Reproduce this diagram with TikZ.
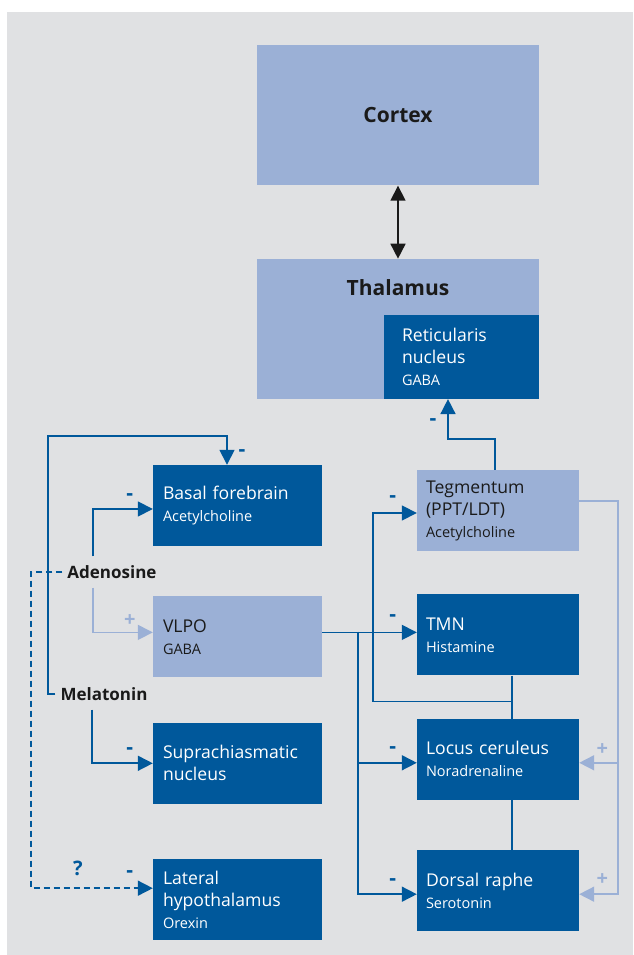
\documentclass[tikz,border=0pt]{standalone}
\usepackage{fontspec}
\setmainfont{Open Sans}
\usetikzlibrary{positioning,arrows.meta,calc}

\definecolor{bgray}{HTML}{E0E1E3}
\definecolor{dblue}{HTML}{00589B}
\definecolor{lblue}{HTML}{9BB0D6}
\definecolor{ink}{HTML}{1A1A1A}

% smaller second line (transmitter) inside a box
\newcommand{\subtxt}[1]{{\fontsize{14.5}{17}\selectfont #1}}

\begin{document}
\begin{tikzpicture}[%
    x=1pt, y=1pt,
    >={Triangle[length=15pt,width=15pt]}, % filled tips everywhere
    node distance=45pt,
    ]
% -------------------------------------------------
% Box, label and connector styles
\tikzset{
  base/.style={rectangle, minimum height=81pt, align=left, inner ysep=0pt,
    font=\fontsize{17.6}{22}\selectfont},
  dk/.style={base, fill=dblue, text=white},
  lt/.style={base, fill=lblue, text=ink},
  lcol/.style={text width=149pt, inner xsep=10pt},
  rcol/.style={text width=144pt, inner xsep=9pt},
  hd/.style={font=\bfseries\fontsize{21}{26}\selectfont, text=ink},
  lab/.style={font=\bfseries\fontsize{17}{20}\selectfont, text=ink,
    inner xsep=5pt, inner ysep=9pt},
  sg/.style={font=\bfseries\fontsize{21}{24}\selectfont, text=dblue, inner sep=0pt},
  sgp/.style={font=\bfseries\fontsize{20}{24}\selectfont, text=lblue, inner sep=0pt},
  % connector line styles
  inh/.style={->, draw=dblue, line width=1.6pt},
  lnk/.style={draw=dblue, line width=1.6pt},
  exc/.style={->, draw=lblue, line width=1.6pt},
  dsh/.style={->, draw=dblue, line width=1.6pt, dash pattern=on 6pt off 4pt},
  both/.style={<->, draw=ink, line width=1.6pt},
}
\useasboundingbox (0,0) rectangle (633,955);
\fill[bgray] (7,0) rectangle (633,943);
% -------------------------------------------------
% Top: cortex and thalamus
\node [lt, hd, minimum width=282pt, minimum height=140pt] (cortex) at (398,839.5) {Cortex};
\node [lt, minimum width=282pt, minimum height=140pt, below=73pt of cortex] (thal) {};
\node [hd] (thaltxt) at ([yshift=-29pt]thal.north) {Thalamus};
\node [dk, text width=119pt, inner xsep=18pt, minimum height=84pt, anchor=south east]
  (retic) at (thal.south east) {Reticularis\\nucleus\\\subtxt{GABA}};

% Left column
\node [dk, lcol] (basal) at (237.5,449.5) {Basal forebrain\\\subtxt{Acetylcholine}};
\node [lt, lcol, below=50pt of basal] (vlpo) {VLPO\\\subtxt{GABA}};
\node [dk, lcol, below=45pt of vlpo] (scn) {Suprachiasmatic\\nucleus};
\node [dk, lcol, below=55pt of scn] (lh) {Lateral\\hypothalamus\\\subtxt{Orexin}};

% Right column
\node [lt, rcol] (teg) at (498,444.5) {Tegmentum\\(PPT/LDT)\\\subtxt{Acetylcholine}};
\node [dk, rcol, below=43pt of teg] (tmn) {TMN\\\subtxt{Histamine}};
\node [dk, rcol, below=43pt of tmn] (lc) {Locus ceruleus\\\subtxt{Noradrenaline}};
\node [dk, rcol, below=50pt of lc] (dr) {Dorsal raphe\\\subtxt{Serotonin}};

% Free labels
\node [lab] (aden) at (112,383) {Adenosine};
\node [lab] (melat) at (104,261) {Melatonin};

% Corners of the long connectors
\coordinate (dashcorner) at (31,383);
\coordinate (loopcorner) at (48,519);
\coordinate (split) at (358,323);
\coordinate (loopin) at ($(teg.west)+(-44,-2.5)$);
\coordinate (excite) at ($(teg.east)+(39,9.5)$);

% -------------------------------------------------
\draw[both] (cortex) -- (thal);
\draw[inh] ([xshift=-3pt]teg.north) -- ++(0,31) -| ([xshift=-13.5pt]retic.south)
  node[sg, at end, xshift=-15pt, yshift=-23pt] {-};

\draw[inh] ([xshift=-19pt]aden.north) |- ([yshift=-3.5pt]basal.west)
  node[sg, at end, xshift=-23pt, yshift=12pt] {-};
\draw[exc] ([xshift=-19pt]aden.south) |- ([yshift=4.5pt]vlpo.west)
  node[sgp, at end, xshift=-23pt, yshift=12pt] {+};
\draw[dsh] (aden.west) -- (dashcorner) |- ([yshift=11.5pt]lh.west)
  node[sg, at end, xshift=-23pt, yshift=14pt] {-}
  node[sg, at end, xshift=-75pt, yshift=20pt, font=\bfseries\fontsize{20}{24}\selectfont] {?};
\draw[inh] (melat.west) -| (loopcorner) -| ([xshift=-10.5pt]basal.north)
  node[sg, at end, xshift=15pt, yshift=12pt] {-};
\draw[inh] ([xshift=-12pt]melat.south) |- (scn.west)
  node[sg, at end, xshift=-23pt, yshift=12pt] {-};

\draw[inh] ([yshift=4.5pt]vlpo.east) -- ([yshift=4.5pt]vlpo.east -| tmn.west)
  node[sg, at end, xshift=-24pt, yshift=14pt] {-};
\draw[inh] (split) |- ([yshift=-3.5pt]lc.west)
  node[sg, at end, xshift=-24pt, yshift=13pt] {-};
\draw[inh] (split) |- ([yshift=-3.5pt]dr.west)
  node[sg, at end, xshift=-24pt, yshift=12pt] {-};

\draw[lnk] ([xshift=14pt]tmn.south) -- ([xshift=14pt]lc.north);
\draw[lnk] ([xshift=14pt]lc.south) -- ([xshift=14pt]dr.north);
\draw[inh] ([xshift=14pt,yshift=-26pt]tmn.south) -| (loopin) -- ([yshift=-2.5pt]teg.west)
  node[sg, at end, xshift=-24pt, yshift=14pt] {-};

\draw[exc] ([yshift=9.5pt]teg.east) -- (excite) |- ([yshift=-3.5pt]dr.east)
  node[sgp, at end, xshift=23pt, yshift=15pt] {+};
\draw[exc] ($(lc.east)+(39,-3.5)$) -- ([yshift=-3.5pt]lc.east)
  node[sgp, at end, xshift=23pt, yshift=13pt] {+};
% -------------------------------------------------
\end{tikzpicture}
\end{document}
